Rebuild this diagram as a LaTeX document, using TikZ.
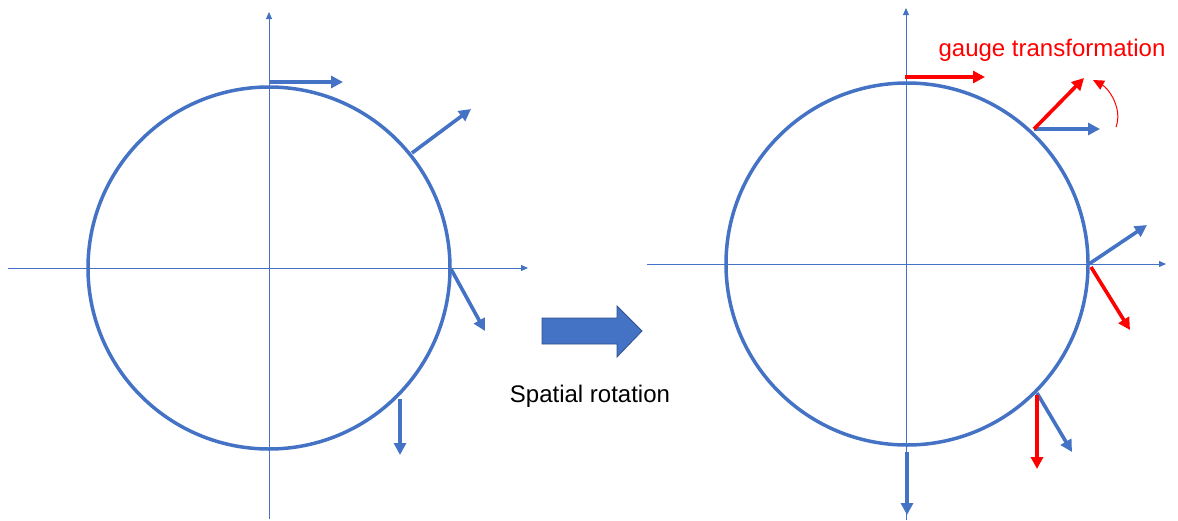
\documentclass[tikz,border=0pt]{standalone}
\usepackage{fontspec}
\setmainfont{Liberation Sans}
\usetikzlibrary{arrows.meta}
\definecolor{cblue}{HTML}{4472C4}
\definecolor{cdark}{HTML}{2F528F}
\definecolor{cred}{HTML}{FF0000}
\tikzset{
  axis/.style={draw=cblue, line width=0.8pt, -{Triangle[length=7pt, width=6pt]}},
  ring/.style={draw=cblue, line width=3.5pt},
  vec/.style={draw=#1, line width=3.6pt, -{Triangle[length=12pt, width=12pt]}},
  vec/.default=cblue,
  caption/.style={font=\fontsize{24}{27}\selectfont, text=#1, anchor=base},
  caption/.default=black,
}

\begin{document}
\begin{tikzpicture}[x=1pt, y=-1pt]
  \useasboundingbox (0,0) rectangle (1178,520);
  % ---- left: field before the rotation
  \coordinate (lc) at (269,268);
  \draw[axis] (8,268) -- (528,268);
  \draw[axis] (269,519) -- (269,12);
  \draw[ring] (lc) circle[radius=181];
  \coordinate (l1) at (270,82);  \coordinate (l1t) at (343,82);
  \coordinate (l2) at (412,153); \coordinate (l2t) at (471,109);
  \coordinate (l3) at (451,269); \coordinate (l3t) at (485,331);
  \coordinate (l4) at (400,399); \coordinate (l4t) at (400,455);
  \foreach \v in {l1,l2,l3,l4} \draw[vec] (\v) -- (\v t);
  % ---- block arrow and its text
  \fill[cblue, draw=cdark, line width=0.8pt] (542,318) -- (617,318) -- (617,306) -- (642,331)
    -- (617,357) -- (617,344) -- (542,344) -- cycle;
  \node[caption] (rot) at (590,402) {Spatial rotation};
  % ---- right: field after the rotation
  \coordinate (rc) at (907,264);
  \draw[axis] (647,264) -- (1166,264);
  \draw[axis] (906,520) -- (906,8);
  \draw[ring] (rc) circle[radius=181];
  \coordinate (r1) at (905,77);   \coordinate (r1t) at (985,77);
  \coordinate (r2) at (1034,129); \coordinate (r2t) at (1100,129); \coordinate (r2g) at (1084,78);
  \coordinate (r3) at (1089,264); \coordinate (r3t) at (1147,225);
  \coordinate (r3r) at (1091,267); \coordinate (r3g) at (1130,330);
  \coordinate (r4) at (1037,393); \coordinate (r4t) at (1072,452);
  \coordinate (r4r) at (1037,395); \coordinate (r4g) at (1037,469);
  \coordinate (r5) at (907,452);  \coordinate (r5t) at (907,515);
  \foreach \v in {r2,r3,r4,r5} \draw[vec] (\v) -- (\v t);
  \draw[vec=cred] (r1) -- (r1t);
  \draw[vec=cred] (r2) -- (r2g);
  \draw[vec=cred] (r3r) -- (r3g);
  \draw[vec=cred] (r4r) -- (r4g);
  % ---- gauge turn
  \coordinate (gs) at (1116,127);
  \coordinate (ge) at (1093,80);
  \draw[cred, line width=1pt, -{Triangle[length=11pt, width=10pt]}] (gs) .. controls (1123,108) and (1108,88) .. (ge);
  \node[caption=cred] (gauge) at (1052,56) {gauge transformation};
\end{tikzpicture}
\end{document}
